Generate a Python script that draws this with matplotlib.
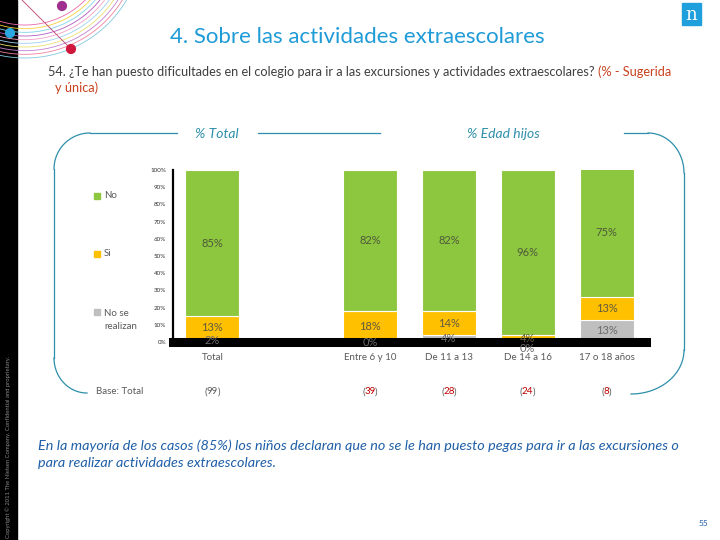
import numpy as np
import matplotlib
matplotlib.use("Agg")
import matplotlib.pyplot as plt
from matplotlib.patches import Rectangle

plt.rcParams['font.family'] = ['Lato', 'DejaVu Sans']

# datos
categories = ["Total", "Entre 6 y 10", "De 11 a 13", "De 14 a 16", "17 o 18 años"]
no = [85, 82, 82, 96, 75]
si = [13, 18, 14, 4, 13]
no_se = [2, 0, 4, 0, 13]
bases = [99, 39, 28, 24, 8]
series_names = ["No", "Si", "No se\nrealizan"]
yticks = list(range(0, 101, 10))

green = "#8DC63F"
yellow = "#FFC000"
grey = "#BFBFBF"
teal = "#2E8FAA"
txt = "#595959"

fig = plt.figure(figsize=(7.2, 5.4), dpi=100)

# fondo en coordenadas de pixel
bg = fig.add_axes([0, 0, 1, 1])
bg.set_xlim(0, 720)
bg.set_ylim(540, 0)
bg.axis("off")

# franja negra y decoracion
bg.add_patch(Rectangle((0, 0), 17, 540, color="black", zorder=1))
arc_cols = ['#e86aa8', '#f4d23c', '#7fd3e8', '#b05ac0', '#f2a0c8',
            '#9ad0f0', '#e8e070', '#c080d0', '#f080a0', '#80c8e0']
t = np.linspace(0, 2.2, 120)
for r, c in zip(np.linspace(85, 118, 10), arc_cols):
    bg.plot(25 + r * np.cos(t), -60 + r * np.sin(t), color=c, lw=0.6, zorder=2)
bg.plot([22, 71], [0, 49], color="#c04070", lw=0.6, zorder=2)
bg.scatter([62, 10, 71], [6, 33, 49], s=40, color=["#a0308f", "#2aa7e0", "#d0163c"], zorder=3)
bg.text(8, 538, "Copyright © 2011 The Nielsen Company. Confidential and proprietary.",
        rotation=90, ha="center", va="bottom", fontsize=4.2, color="#8a8a8a", zorder=3)

# logo
bg.add_patch(Rectangle((682, 3), 19, 22, color="#1fa0dc", zorder=2))
bg.text(691.5, 15, "n", color="white", fontsize=13, ha="center", va="center",
        family="DejaVu Serif", zorder=3)

# titulos
bg.text(357, 37, "4. Sobre las actividades extraescolares", color="#1F9BD7",
        fontsize=16, ha="center", va="center")
q = bg.text(48, 72, "54. ¿Te han puesto dificultades en el colegio para ir a las excursiones y actividades extraescolares? ",
            color="#404040", fontsize=9.2, ha="left", va="center")
fig.canvas.draw()
rend = fig.canvas.get_renderer()
inv = bg.transData.inverted()
x_end = inv.transform((q.get_window_extent(rend).x1, 0))[0]
bg.text(x_end, 72, "(% - Sugerida", color="#C8401E", fontsize=9.2, ha="left", va="center")
bg.text(55, 88, "y única)", color="#C8401E", fontsize=9.2, ha="left", va="center")

# corchetes
def corner(cx, cy, rx, ry, a0, a1):
    a = np.linspace(a0, a1, 40)
    return cx + rx * np.cos(a), cy + ry * np.sin(a)

xs, ys = corner(90, 169, 36, 36, -np.pi / 2, -np.pi)
bg.plot([177, 90], [133, 133], color=teal, lw=0.9)
bg.plot(xs, ys, color=teal, lw=0.9)
bg.plot([54, 54], [169, 358], color=teal, lw=0.9)
xs, ys = corner(87, 358, 33, 35, np.pi, np.pi / 2)
bg.plot(xs, ys, color=teal, lw=0.9)
bg.plot([258, 380], [133, 133], color=teal, lw=0.9)

bg.plot([624, 648], [133, 133], color=teal, lw=0.9)
xs, ys = corner(648, 173, 36, 40, -np.pi / 2, 0)
bg.plot(xs, ys, color=teal, lw=0.9)
bg.plot([684, 684], [173, 350], color=teal, lw=0.9)
xs, ys = corner(631, 350, 53, 44, 0, np.pi / 2)
bg.plot(xs, ys, color=teal, lw=0.9)

bg.text(217, 134, "% Total", color=teal, fontsize=10, style="italic", ha="center", va="center")
bg.text(503, 134, "% Edad hijos", color=teal, fontsize=10, style="italic", ha="center", va="center")

# leyenda
for y, name, col in zip([196, 254, 312], series_names, [green, yellow, grey]):
    bg.add_patch(Rectangle((94, y - 3), 6, 6, color=col))
    bg.text(104, y - 3 if "\n" in name else y, name, color=txt, fontsize=7,
            ha="left", va="top" if "\n" in name else "center", linespacing=1.6)

# grafico
ax = fig.add_axes([173 / 720, 1 - 342 / 540, 473 / 720, 172 / 540])
x = np.array([0, 2, 3, 4, 5])
w = 0.685
no_se_a = np.array(no_se)
si_a = np.array(si)
no_a = np.array(no)
ax.bar(x, no_se_a, w, color=grey, edgecolor="white", linewidth=0.8)
ax.bar(x, si_a, w, bottom=no_se_a, color=yellow, edgecolor="white", linewidth=0.8)
ax.bar(x, no_a, w, bottom=no_se_a + si_a, color=green, edgecolor="white", linewidth=0.8)

for xi, a, b, c in zip(x, no_se_a, si_a, no_a):
    # etiqueta 0% desplazada hacia abajo cuando choca con una etiqueta pequena
    ya = -3.5 if (a == 0 and b < 8) else a / 2
    ax.text(xi, ya, f"{a}%", ha="center", va="center", fontsize=8, color="#6b6b6b",
            zorder=5, clip_on=False)
    ax.text(xi, a + b / 2, f"{b}%", ha="center", va="center", fontsize=8, color="#5f5a40", zorder=5)
    ax.text(xi, a + b + c / 2, f"{c}%", ha="center", va="center", fontsize=8, color="#4f5a3a", zorder=5)

ax.set_xlim(-0.5, 5.5)
ax.set_ylim(0, 100)
ax.set_yticks(yticks)
ax.set_yticklabels([f"{v}%" for v in yticks], fontsize=4.5, color="#333333")
ax.tick_params(axis="y", length=0, pad=5)
ax.set_xticks([])
for s in ["top", "right"]:
    ax.spines[s].set_visible(False)
ax.spines["left"].set_linewidth(1.6)
ax.spines["bottom"].set_linewidth(6.5)
ax.spines["bottom"].set_zorder(4)
ax.patch.set_alpha(0)

# etiquetas de categoria y bases (numeros en rojo entre parentesis grises)
for xi, cat, b in zip(x, categories, bases):
    px = 173 + (xi + 0.5) * 473 / 6
    bg.text(px, 357, cat, ha="center", va="center", fontsize=7, color=txt)
    num_col = txt if cat == "Total" else "#C00000"
    num = bg.text(px, 392, f"{b}", ha="center", va="center", fontsize=7, color=num_col)
    bb = num.get_window_extent(rend)
    x0 = inv.transform((bb.x0, 0))[0]
    x1 = inv.transform((bb.x1, 0))[0]
    bg.text(x0 + 0.5, 392, "(", ha="right", va="center", fontsize=7, color=txt)
    bg.text(x1 - 0.5, 392, ")", ha="left", va="center", fontsize=7, color=txt)
bg.text(96, 392, "Base: Total", ha="left", va="center", fontsize=7, color=txt)

# conclusion
bg.text(38, 446, "En la mayoría de los casos (85%) los niños declaran que no se le han puesto pegas para ir a las excursiones o",
        color="#1F5FA8", fontsize=10.4, style="italic", ha="left", va="center")
bg.text(38, 463, "para realizar actividades extraescolares.",
        color="#1F5FA8", fontsize=10.4, style="italic", ha="left", va="center")
bg.text(703, 523, "55", color="#1F5FA8", fontsize=6, ha="center", va="center")

fig.savefig("out.png", dpi=100)
